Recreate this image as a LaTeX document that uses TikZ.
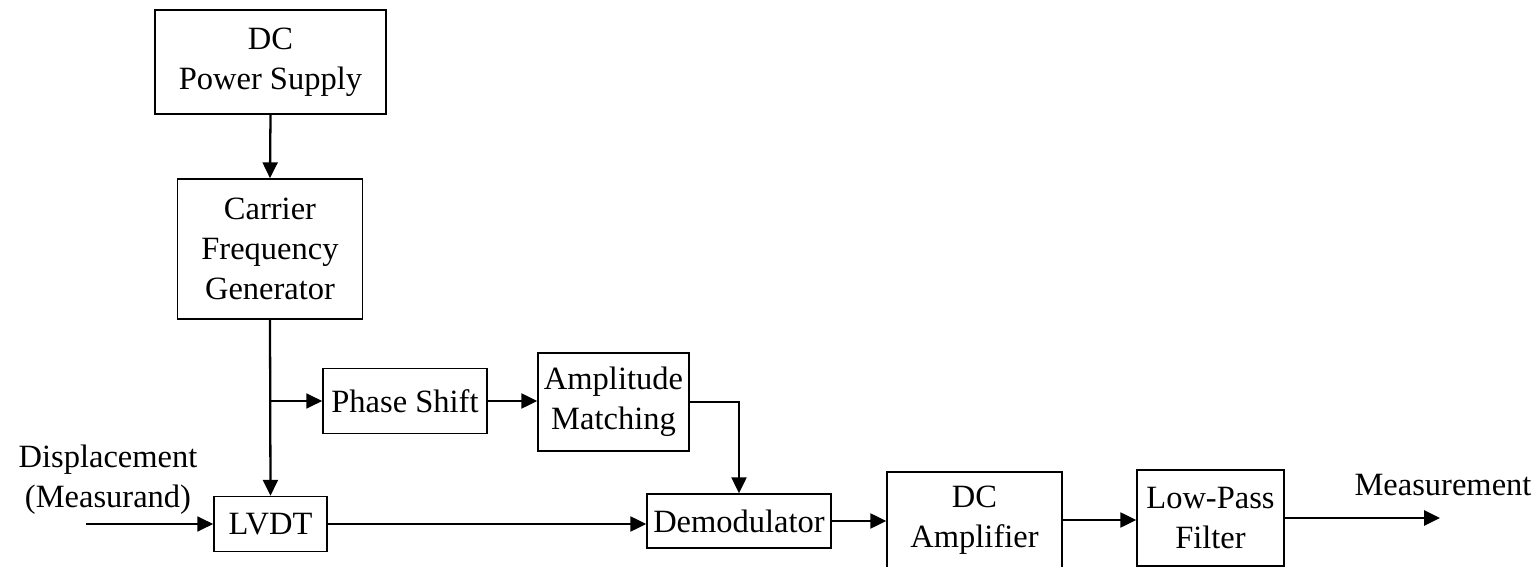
\documentclass[tikz,border=0pt]{standalone}
\usepackage{fontspec}
\setmainfont{Liberation Serif}
\usetikzlibrary{arrows.meta}
\begin{document}
\begin{tikzpicture}[x=0.02cm,y=-0.02cm,
  blk/.style={draw, line width=0.9pt, inner sep=0pt, align=center,
    font=\fontsize{18.5}{22.7}\selectfont},
  lbl/.style={inner sep=0pt, align=center, font=\fontsize{18.5}{22.7}\selectfont},
  conn/.style={line width=1.3pt, -{Triangle[length=9pt,width=8.5pt]}},
  thinconn/.style={line width=0.9pt, -{Triangle[length=9pt,width=8.5pt]}}]
\useasboundingbox (0,0) rectangle (1539,567);
\node[blk, minimum width=231*0.02cm, minimum height=104*0.02cm] (dc) at (270.5,62) {DC\\Power Supply};
\node[blk, minimum width=185*0.02cm, minimum height=140*0.02cm] (cfg) at (270,249) {Carrier\\Frequency\\Generator};
\node[blk, minimum width=164*0.02cm, minimum height=65*0.02cm] (ps) at (405,401) {Phase Shift};
\node[blk, minimum width=151*0.02cm, minimum height=98*0.02cm] (am) at (613.5,402) {Amplitude\\Matching};
\node[blk, minimum width=113*0.02cm, minimum height=55*0.02cm] (lvdt) at (270.5,524) {LVDT};
\node[blk, minimum width=184*0.02cm, minimum height=54*0.02cm] (demod) at (739,521) {Demodulator};
\node[blk, minimum width=175*0.02cm, minimum height=96*0.02cm] (dcamp) at (974.5,520) {DC\\Amplifier};
\node[blk, minimum width=147*0.02cm, minimum height=96*0.02cm] (lpf) at (1210.5,518) {Low-Pass\\Filter};
\node[lbl] (disp) at (108,480) {Displacement\\(Measurand)};
\node[lbl] (meas) at (1443,485) {Measurement};
\coordinate (in) at (86,524);
\coordinate (out) at (1440,518);
\coordinate (br) at (270,401);
\draw[conn] (dc.south) -- (cfg.north);
\draw[conn] (cfg.south) -- (lvdt.north);
\draw[thinconn] (br) -- (ps.west);
\draw[conn] (ps.east) -- (ps.east -| am.west);
\draw[conn] (am.east) -| (demod.north);
\draw[thinconn] (in) -- (lvdt.west);
\draw[conn] (lvdt.east) -- (lvdt.east -| demod.west);
\draw[conn] (demod.east) -- (demod.east -| dcamp.west);
\draw[conn] (dcamp.east) -- (dcamp.east -| lpf.west);
\draw[conn] (lpf.east) -- (out);
\end{tikzpicture}
\end{document}
